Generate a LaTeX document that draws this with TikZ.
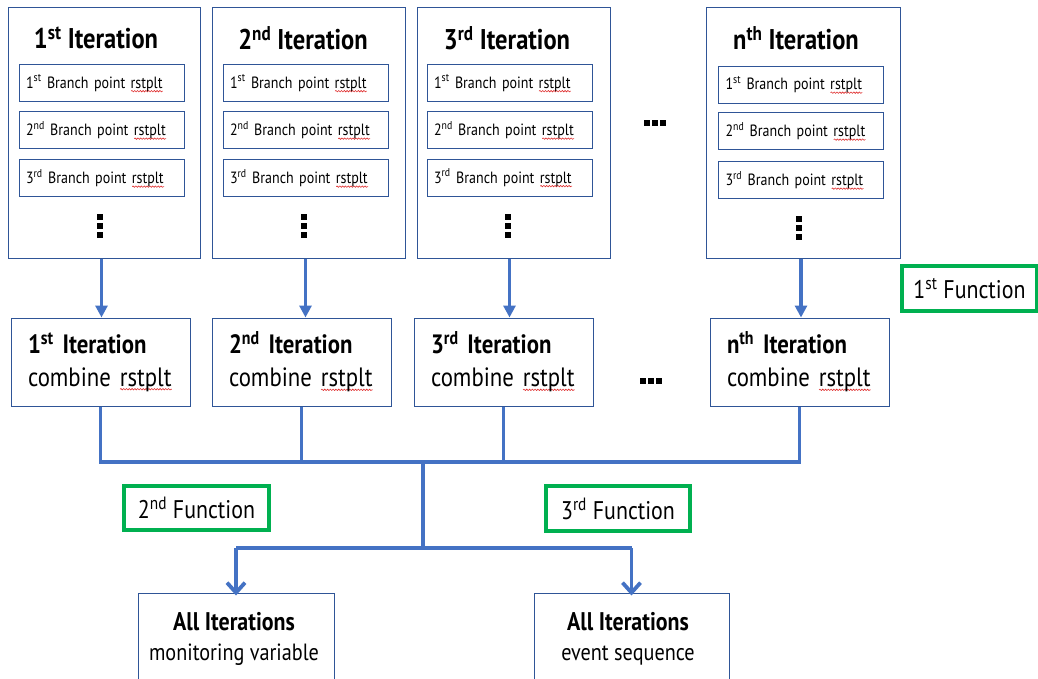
\documentclass[tikz,border=0pt]{standalone}
\usepackage{fontspec}
\setmainfont{PT Sans}[FakeStretch=0.86]
\usetikzlibrary{arrows.meta,decorations.pathmorphing}
\definecolor{boxblue}{HTML}{2F5597}
\definecolor{lineblue}{HTML}{4472C4}
\definecolor{fgreen}{HTML}{00B050}
\definecolor{squig}{HTML}{E03030}
\newcommand{\sx}[1]{\textsuperscript{#1}}
\newsavebox\rsbox
\newcommand{\rsw}{\sbox\rsbox{rstplt}\rlap{\raisebox{-3pt}{\tikz[baseline=0pt]{\draw[squig,line width=0.6pt,decorate,decoration={snake,amplitude=0.7pt,segment length=2.8pt}] (0pt,0pt) -- (\wd\rsbox,0pt);}}}\usebox\rsbox}
\tikzset{
  outerbox/.style={draw=boxblue, line width=1pt, minimum width=192pt, minimum height=250pt, inner sep=0pt},
  innerbox/.style={draw=boxblue, line width=1pt, minimum width=165pt, minimum height=37pt, inner sep=0pt,
     text width=151pt, align=left, font=\fontsize{16.3}{18}\selectfont},
  titletext/.style={font=\bfseries\fontsize{28.5}{30}\selectfont, inner sep=0pt},
  combbox/.style={draw=boxblue, line width=1pt, minimum width=179pt, minimum height=88pt, inner sep=0pt,
     text width=145pt, align=left, font=\fontsize{26.5}{33}\selectfont},
  funcbox/.style={draw=fgreen, line width=3.2pt, inner sep=0pt, font=\fontsize{25.5}{28}\selectfont},
  botbox/.style={draw=boxblue, line width=1pt, minimum width=196pt, minimum height=110pt, inner sep=0pt},
  bottext/.style={align=center, inner sep=0pt, font=\fontsize{23.5}{30}\selectfont},
  flow/.style={draw=lineblue, line width=3.8pt},
  farr/.style={flow, -{Triangle[length=12pt,width=12pt]}},
  oarr/.style={flow, -{Straight Barb[length=10pt,width=18pt]}},
  dotsq/.style={fill=black, minimum size=5.5pt, inner sep=0pt},
}
\newcommand{\vdotsq}[2]{%
  \node[dotsq] at (#1,#2-9) {};
  \node[dotsq] at (#1,#2) {};
  \node[dotsq] at (#1,#2+9) {};}
\newcommand{\hdotsq}[2]{%
  \node[dotsq] at (#1-8,#2) {};
  \node[dotsq] at (#1,#2) {};
  \node[dotsq] at (#1+8,#2) {};}
\begin{document}
\begin{tikzpicture}[x=1pt,y=-1pt]
\clip (0,0) rectangle (1038,679);
\fill[white] (0,0) rectangle (1038,679);

% outer iteration boxes
\node[outerbox] (ob1) at (104,133) {};
\node[outerbox, minimum width=193pt] (ob2) at (308.5,133) {};
\node[outerbox, minimum width=193pt] (ob3) at (513.5,133) {};
\node[outerbox, minimum width=194pt] (obn) at (803,133) {};

\node[titletext] (t1) at (96,38) {1\sx{st} Iteration};
\node[titletext] (t2) at (303,38) {2\sx{nd} Iteration};
\node[titletext] (t3) at (507,38) {3\sx{rd} Iteration};
\node[titletext] (tn) at (796,38) {n\sx{th} Iteration};

% inner branch point boxes
\node[innerbox] (i11) at (101.5,83.5) {1\sx{st} Branch point \rsw};
\node[innerbox] (i12) at (101.5,130.5) {2\sx{nd} Branch point \rsw};
\node[innerbox] (i13) at (101.5,178.5) {3\sx{rd} Branch point \rsw};
\node[innerbox] (i21) at (305.5,83.5) {1\sx{st} Branch point \rsw};
\node[innerbox] (i22) at (305.5,130.5) {2\sx{nd} Branch point \rsw};
\node[innerbox] (i23) at (305.5,178.5) {3\sx{rd} Branch point \rsw};
\node[innerbox] (i31) at (509.5,83.5) {1\sx{st} Branch point \rsw};
\node[innerbox] (i32) at (509.5,130.5) {2\sx{nd} Branch point \rsw};
\node[innerbox] (i33) at (509.5,178) {3\sx{rd} Branch point \rsw};
\node[innerbox] (in1) at (801,85) {1\sx{st} Branch point \rsw};
\node[innerbox] (in2) at (801,131.5) {2\sx{nd} Branch point \rsw};
\node[innerbox] (in3) at (801,180.5) {3\sx{rd} Branch point \rsw};

% vertical dots
\vdotsq{100}{226}
\vdotsq{304}{226}
\vdotsq{508}{226}
\vdotsq{799}{228}
% horizontal dots
\hdotsq{655}{123}
\hdotsq{651}{381}

% combine boxes
\node[combbox] (c1) at (100.5,362) {\textbf{1\sx{st} Iteration}\\combine \rsw};
\node[combbox] (c2) at (301.5,362) {\textbf{2\sx{nd} Iteration}\\combine \rsw};
\node[combbox] (c3) at (503.5,362) {\textbf{3\sx{rd} Iteration}\\combine \rsw};
\node[combbox] (cn) at (799.5,362) {\textbf{n\sx{th} Iteration}\\combine \rsw};

% arrows iteration -> combine
\draw[farr] (ob1.south -| i11) -- (c1.north -| i11);
\draw[farr] (ob2.south -| i21) -- (c2.north -| i21);
\draw[farr] (ob3.south -| i31) -- (c3.north -| i31);
\draw[farr] (obn.south -| in1) -- (cn.north -| in1);

% bus
\coordinate (bus) at (423,462);
\coordinate (split) at (423,548);
\draw[flow, line join=miter] (c1.south) -- (c1.south |- bus) -- (cn.south |- bus) -- (cn.south);
\draw[flow] (c2.south) -- (c2.south |- bus);
\draw[flow] (c3.south) -- (c3.south |- bus);
\draw[flow] (bus) -- (split);

% bottom boxes
\node[botbox] (b1) at (236,648) {};
\node[botbox, minimum width=195pt] (b2) at (631.5,648) {};
\node[bottext, anchor=north] (bt1) at (234,612) {\textbf{\fontsize{25.5}{28}\selectfont All Iterations}\\monitoring variable};
\node[bottext, anchor=north] (bt2) at (628,612) {\textbf{\fontsize{25.5}{28}\selectfont All Iterations}\\event sequence};

\draw[flow, line join=miter] (b1.north |- split) -- (b2.north |- split);
\draw[oarr] (b1.north |- split) -- ([yshift=-3pt]b1.north);
\draw[oarr] (b2.north |- split) -- ([yshift=-3pt]b2.north);

% function boxes
\node[funcbox, minimum width=135pt, minimum height=45pt] (f1) at (969.5,288.5) {1\sx{st} Function};
\node[funcbox, minimum width=145pt, minimum height=44pt] (f2) at (196.5,508) {2\sx{nd} Function};
\node[funcbox, minimum width=144pt, minimum height=45pt] (f3) at (618,508.5) {3\sx{rd} Function};
\end{tikzpicture}
\end{document}
